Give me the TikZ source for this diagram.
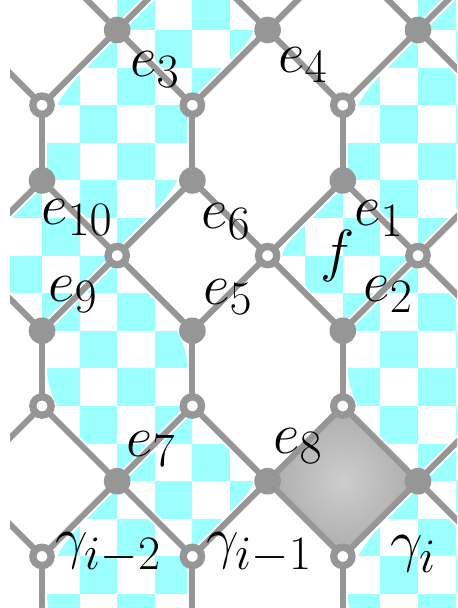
\documentclass[tikz,border=0pt]{standalone}
\usepackage{fix-cm}
\usetikzlibrary{calc}
\DeclareMathSizes{29}{29}{24}{19}
\definecolor{lat}{RGB}{150,150,150}
\definecolor{chk}{RGB}{153,255,255}
\definecolor{dmin}{RGB}{205,205,205}
\definecolor{dmout}{RGB}{172,172,172}
\pgfdeclarelayer{back}
\pgfsetlayers{back,main}
\newcommand\strippath{(0.5,-2.5) .. controls (0.1667,-2.1667) and (0,-1.8333) .. (0,-1.5)
 .. controls (0,-1.1667) and (0.1667,-0.8333) .. (0.5,-0.5)
 -- (1,0) -- (0.5,0.5)
 .. controls (0.1667,0.8333) and (0,1.1667) .. (0,1.5)
 -- (0,2) -- (-0.5,2.5)
 .. controls (-1,3) .. (-0.5,3.5)
 -- (0,4) -- (0,4.5)
 .. controls (0,4.8333) and (0.1667,5.1667) .. (0.5,5.5)
 -- (1,6) -- (0.5,6.5)
 .. controls (0.1667,6.8333) and (0,7.1667) .. (0,7.5)
 .. controls (0,7.8333) and (0.1667,8.1667) .. (0.5,8.5)
 .. controls (0.8333,8.8333) and (1.1667,8.8333) .. (1.5,8.5)
 .. controls (1.8333,8.1667) and (2,7.8333) .. (2,7.5)
 -- (2,7) -- (2.5,6.5)
 .. controls (3,6) .. (2.5,5.5)
 -- (2,5) -- (2,4.5)
 .. controls (2,4.1667) and (1.8333,3.8333) .. (1.5,3.5)
 -- (1,3) -- (1.5,2.5)
 .. controls (1.8333,2.1667) and (2,1.8333) .. (2,1.5)
 -- (2,1) -- (2.5,0.5)
 .. controls (3,0) .. (2.5,-0.5)
 -- (2,-1) -- (2,-1.5)
 .. controls (2,-1.8333) and (1.8333,-2.1667) .. (1.5,-2.5)
 .. controls (1.1667,-2.8333) and (0.8333,-2.8333) .. (0.5,-2.5) -- cycle}
\newcommand\alledges[1]{%
  \foreach \c in {0,2,4,6} {%
    \foreach \r in {1,4,7} {%
      \pgfmathtruncatemacro\ra{\r-1}%
      \pgfmathtruncatemacro\rb{\r+1}%
      \pgfmathtruncatemacro\cb{\c+1}%
      \draw[#1] (v\cb\ra.center) -- (v\c\r.center) -- (v\cb\rb.center);%
      \ifnum\c>0
        \pgfmathtruncatemacro\ca{\c-1}%
        \draw[#1] (v\ca\ra.center) -- (v\c\r.center) -- (v\ca\rb.center);%
      \fi
    }%
  }%
  \foreach \c in {1,3,5,7} {%
    \draw[#1] (v\c2.center) -- (v\c3.center) (v\c5.center) -- (v\c6.center) (v\c8.center) -- (v\c9.center);%
  }%
}
\begin{document}
\begin{tikzpicture}[x=37.6pt,y=-37.6pt,
  bv/.style={circle,fill=lat,inner sep=0pt,minimum size=13.3pt},
  wv/.style={circle,fill=white,draw=lat,line width=3.65pt,inner sep=0pt,minimum size=9.15pt},
  halo/.style={white,line width=5pt},
  edgeline/.style={lat,line width=3pt},
  lab/.style={anchor=base west,inner sep=0pt,font=\fontsize{29}{34}\selectfont}]
\useasboundingbox (-0.5585,-0.3989) rectangle (5.5186,7.6862);
% lattice vertices
\foreach \c in {0,2,4,6,8} {
  \node[bv] (v\c1) at ({\c-1},0) {};
  \node[wv] (v\c4) at ({\c-1},3) {};
  \node[bv] (v\c7) at ({\c-1},6) {};
}
\foreach \c in {1,3,5,7} {
  \foreach \r in {0,2,6,8} { \node[wv] (v\c\r) at ({\c-1},{\r-1}) {}; }
  \foreach \r in {3,5,9} { \node[bv] (v\c\r) at ({\c-1},{\r-1}) {}; }
}
% labels
\node[lab] (le3) at (1.170,0.625) {$e_3$};
\node[lab] (le4) at (3.138,0.559) {$e_4$};
\node[lab] (le10) at (-0.0133,2.593) {$e_{10}$};
\node[lab] (le9) at (0.0798,3.617) {$e_9$};
\node[lab] (le6) at (2.114,2.646) {$e_6$};
\node[lab] (le5) at (2.141,3.644) {$e_5$};
\node[lab] (le1) at (4.149,2.606) {$e_1$};
\node[lab,anchor=center] (lf) at (3.936,3.005) {$f$};
\node[lab] (le2) at (4.269,3.617) {$e_2$};
\node[lab] (le7) at (1.117,5.665) {$e_7$};
\node[lab] (le8) at (3.072,5.625) {$e_8$};
\node[lab] (lg2) at (0.173,7.02) {$\gamma_{i-2}$};
\node[lab] (lg1) at (2.181,7.02) {$\gamma_{i-1}$};
\node[lab] (lg0) at (4.628,7.06) {$\gamma_i$};
\begin{pgfonlayer}{back}
\begin{scope}
\clip (-0.4255,-0.3989) rectangle (5.5186,7.6862);
\foreach \s in {0,4} {
  \begin{scope}[shift={(\s,0)}]
    \begin{scope}
      \clip \strippath;
      \foreach \i in {-2,...,5} {
        \foreach \j in {-1,...,15} {
          \pgfmathtruncatemacro\pp{mod(\i+\j+40,2)}
          \ifnum\pp=1 \fill[chk] (\i/2,\j/2) rectangle ++(0.5,0.5); \fi
        }
      }
    \end{scope}
    \draw[white,line width=5pt] \strippath;
  \end{scope}
}
\alledges{halo}
\fill[shading=radial,inner color=dmin,outer color=dmout] (v56.center) -- (v47.center) -- (v58.center) -- (v67.center) -- cycle;
\alledges{edgeline}
\end{scope}
\end{pgfonlayer}
\end{tikzpicture}
\end{document}
